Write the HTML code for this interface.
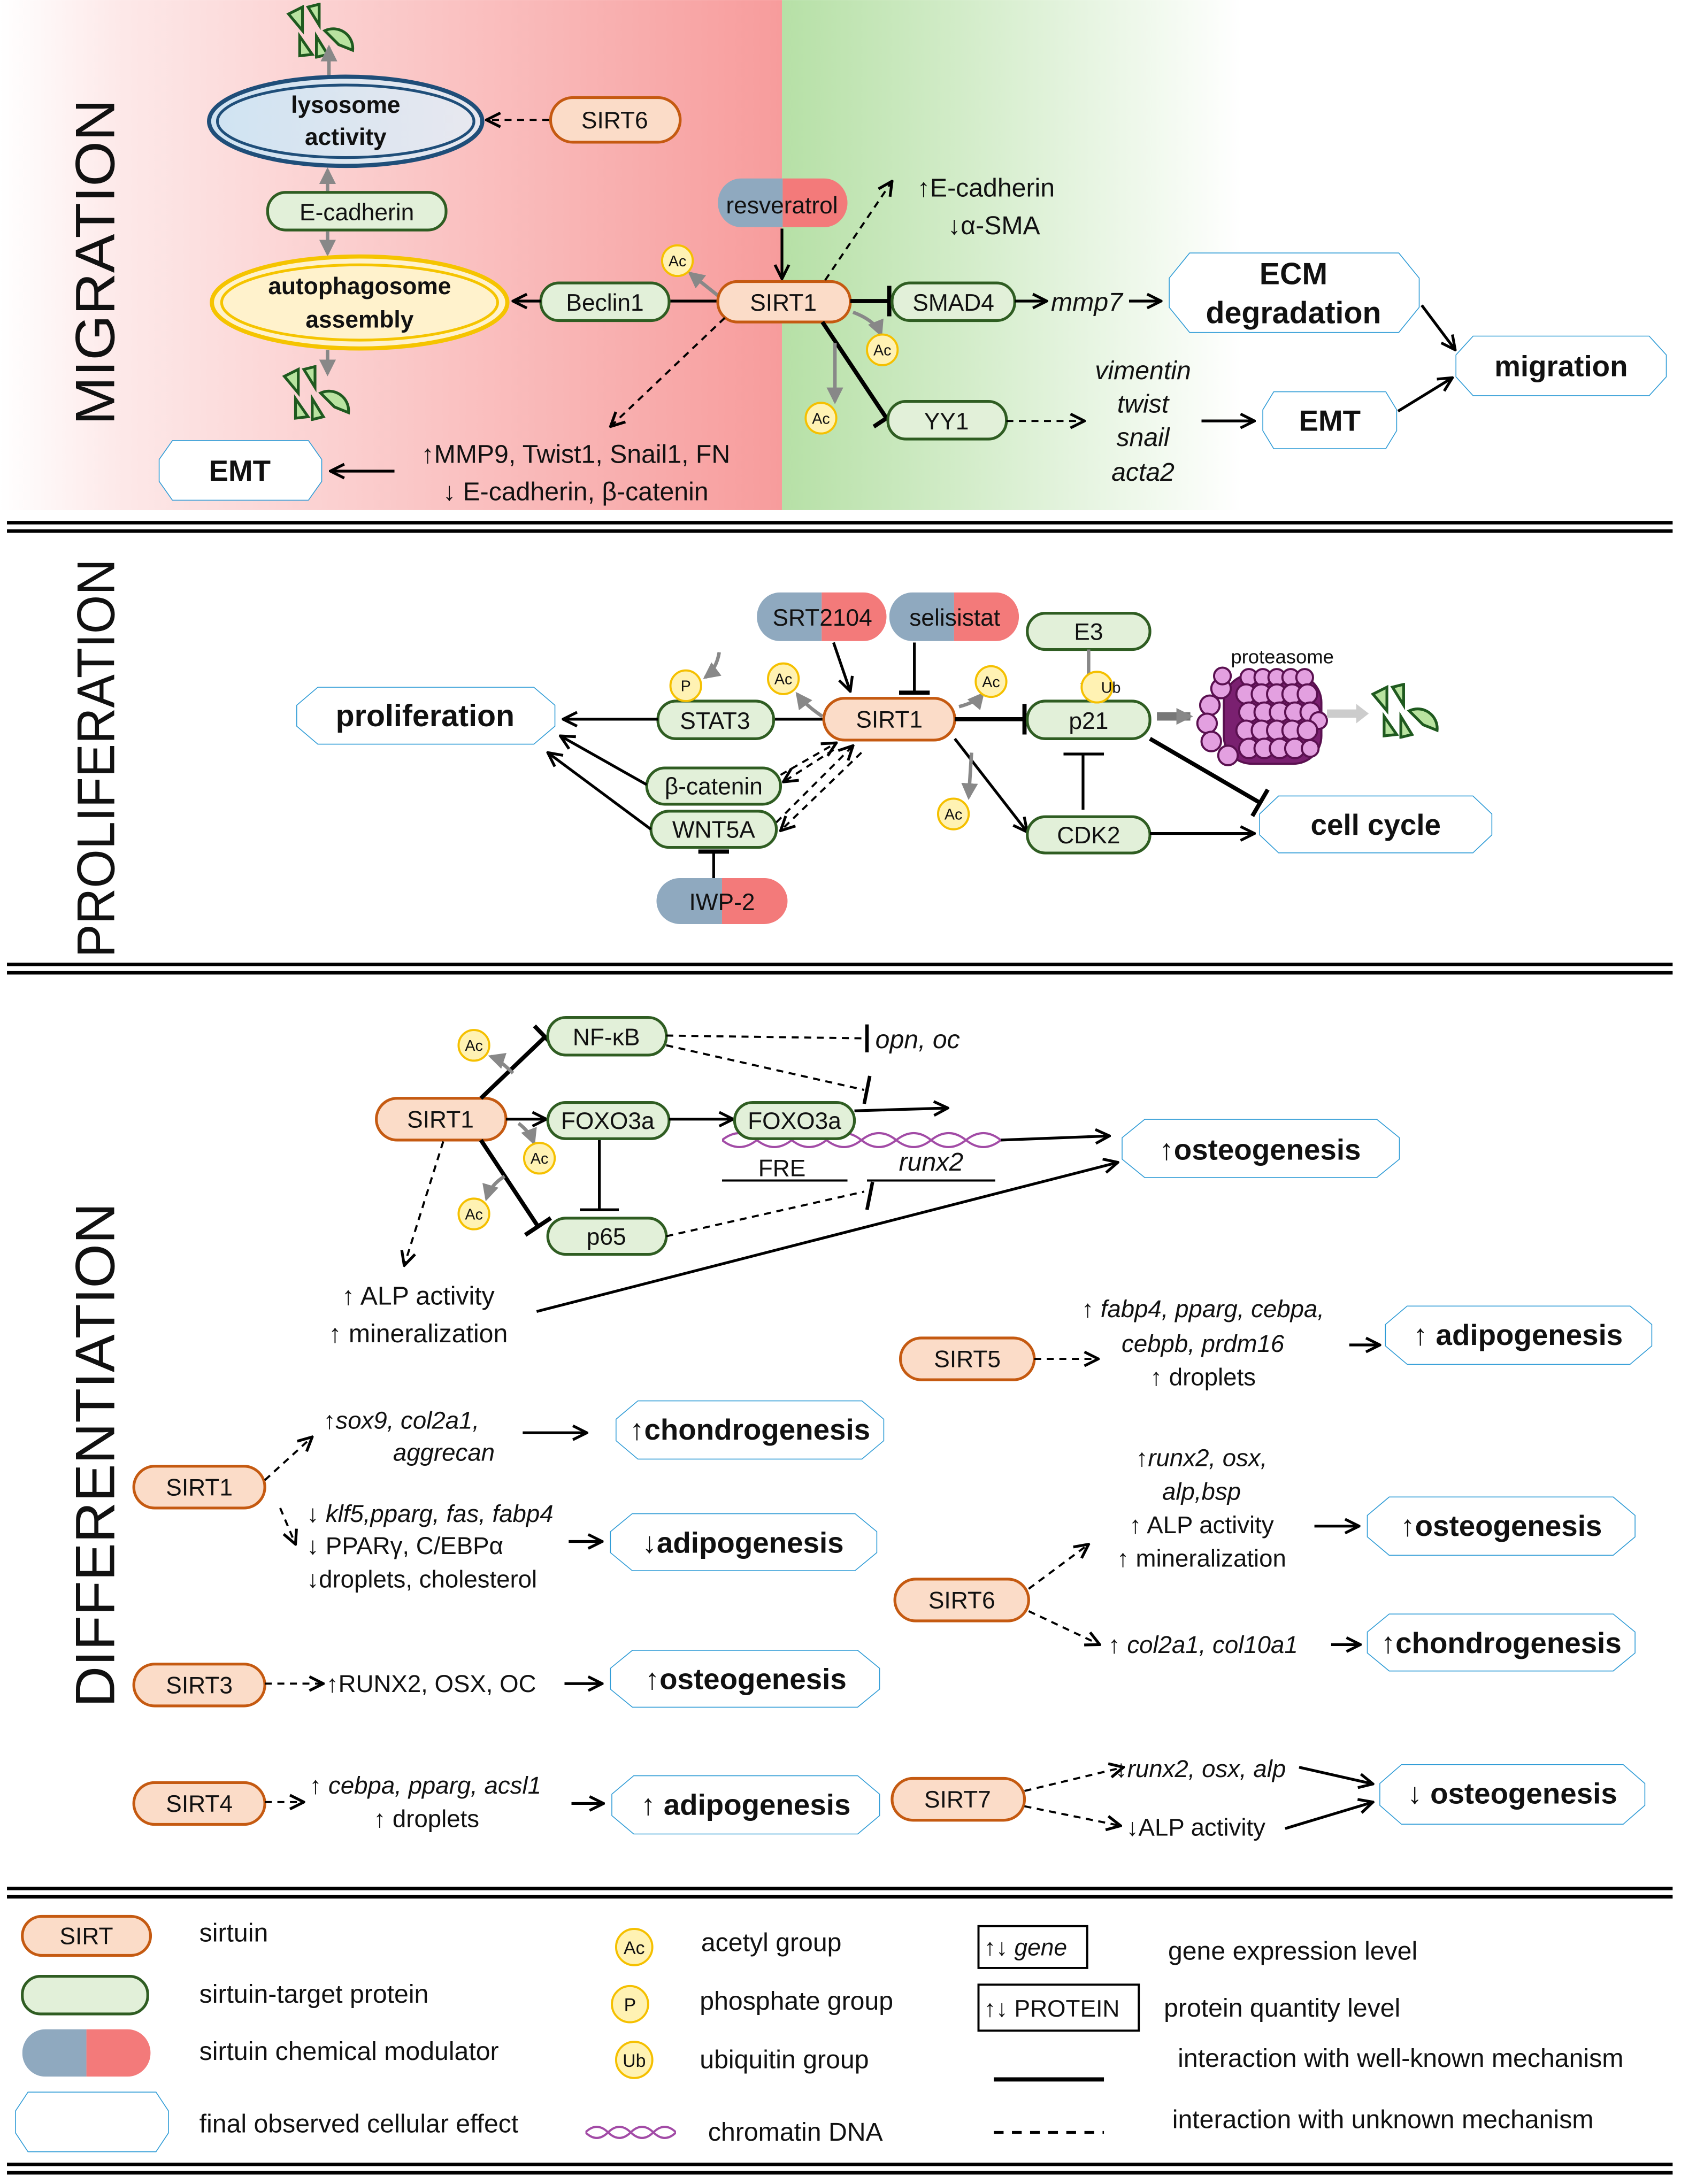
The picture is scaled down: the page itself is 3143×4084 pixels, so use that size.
<!DOCTYPE html>
<html><head><meta charset="utf-8">
<style>
html,body{margin:0;padding:0;background:#fff;}
svg{display:block;}
text{font-family:"Liberation Sans",sans-serif;fill:#111;}
.s{fill:#fbdcc8;stroke:#c55a11;stroke-width:2;}
.g{fill:#e2f0d9;stroke:#2f5d22;stroke-width:2;}
.nt{font-size:17px;text-anchor:middle;}
.et{font-size:21px;font-weight:bold;text-anchor:middle;}
.bt{font-size:18.5px;}
.it{font-style:italic;}
.ln{stroke:#000;stroke-width:2;fill:none;}
.th{stroke:#000;stroke-width:3;fill:none;}
.ds{stroke:#000;stroke-width:1.5;fill:none;stroke-dasharray:5,4;}
.gr{stroke:#888;stroke-width:2.5;fill:none;}
.sep{stroke:#000;stroke-width:2.5;}
</style></head><body>
<svg width="3143" height="4084" viewBox="0 0 1206 1567" xmlns="http://www.w3.org/2000/svg">
<defs>
<linearGradient id="rg" x1="0" x2="1" y1="0" y2="0"><stop offset="0" stop-color="#fff"/><stop offset="0.15" stop-color="#fde9e9"/><stop offset="1" stop-color="#f79c9c"/></linearGradient>
<linearGradient id="gg" x1="0" x2="1" y1="0" y2="0"><stop offset="0" stop-color="#b6e0a6"/><stop offset="1" stop-color="#fff"/></linearGradient>
<linearGradient id="lg" x1="0" x2="1"><stop offset="0" stop-color="#cfe3f2"/><stop offset="1" stop-color="#e8e8ef"/></linearGradient>
<marker id="a" viewBox="0 0 12 12" refX="11" refY="6" markerWidth="12" markerHeight="12" markerUnits="userSpaceOnUse" orient="auto"><path d="M1,1 L11,6 L1,11" fill="none" stroke="#000" stroke-width="2"/></marker>
<marker id="ag" viewBox="0 0 12 12" refX="10" refY="6" markerWidth="12" markerHeight="12" markerUnits="userSpaceOnUse" orient="auto"><path d="M0,0 L12,6 L0,12Z" fill="#888"/></marker>
<marker id="t" viewBox="0 0 4 22" refX="2" refY="11" markerWidth="4" markerHeight="22" markerUnits="userSpaceOnUse" orient="auto"><path d="M2,0V22" stroke="#000" stroke-width="3"/></marker>
<symbol id="eff" viewBox="0 0 100 40" preserveAspectRatio="none"><path d="M9,1H91L99,13V27L91,39H9L1,27V13Z" fill="#fff" stroke="#2e9bd6" stroke-width="1.6" vector-effect="non-scaling-stroke"/></symbol>
<symbol id="mod" viewBox="0 0 100 36" preserveAspectRatio="none"><path d="M18,0H50V36H18A18,18 0 0 1 18,0Z" fill="#8fa9bf"/><path d="M50,0H82A18,18 0 0 1 82,36H50Z" fill="#f37a7a"/></symbol>
<symbol id="frag" viewBox="0 0 50 40"><g fill="#b9e3a0" stroke="#1f5a1f" stroke-width="2"><polygon points="2,8 12,3 12,20"/><polygon points="16,3 24,1 24,16"/><polygon points="10,24 10,38 19,37"/><polygon points="22,24 22,39 30,37"/><path d="M28,20 A14,14 0 0 1 48,34 L38,30 Z"/></g></symbol>
<symbol id="dna" viewBox="0 0 100 20" preserveAspectRatio="none"><path d="M0,10 Q6.25,0 12.5,10 T25,10 T37.5,10 T50,10 T62.5,10 T75,10 T87.5,10 T100,10" stroke="#a24ba6" stroke-width="4" fill="none" vector-effect="non-scaling-stroke"/><path d="M0,10 Q6.25,20 12.5,10 T25,10 T37.5,10 T50,10 T62.5,10 T75,10 T87.5,10 T100,10" stroke="#a24ba6" stroke-width="4" fill="none" vector-effect="non-scaling-stroke"/></symbol>
</defs>

<rect x="0" y="0" width="561" height="366" fill="url(#rg)"/>
<rect x="561" y="0" width="330" height="366" fill="url(#gg)"/>

<g class="sep"><line x1="5" y1="375" x2="1200" y2="375"/><line x1="5" y1="381" x2="1200" y2="381"/>
<line x1="5" y1="692" x2="1200" y2="692"/><line x1="5" y1="698" x2="1200" y2="698"/>
<line x1="5" y1="1355" x2="1200" y2="1355"/><line x1="5" y1="1361" x2="1200" y2="1361"/>
<line x1="5" y1="1553" x2="1200" y2="1553"/><line x1="5" y1="1559" x2="1200" y2="1559"/></g>

<text transform="translate(82,188) rotate(-90)" font-size="40" text-anchor="middle" textLength="234" lengthAdjust="spacingAndGlyphs">MIGRATION</text>
<text transform="translate(82,544) rotate(-90)" font-size="38" text-anchor="middle" textLength="286" lengthAdjust="spacingAndGlyphs">PROLIFERATION</text>
<text transform="translate(82,1044) rotate(-90)" font-size="40" text-anchor="middle" textLength="362" lengthAdjust="spacingAndGlyphs">DIFFERENTIATION</text>

<!-- MIGRATION -->
<use href="#frag" x="195" y="2" width="70" height="40"/>
<line class="gr" x1="236" y1="55" x2="236" y2="34" marker-end="url(#ag)"/>
<ellipse cx="248" cy="87" rx="98" ry="32" fill="url(#lg)" stroke="#1f4e79" stroke-width="3"/>
<ellipse cx="248" cy="87" rx="92" ry="26" fill="none" stroke="#1f4e79" stroke-width="2"/>
<text x="248" y="81" font-size="17" font-weight="bold" text-anchor="middle">lysosome</text>
<text x="248" y="104" font-size="17" font-weight="bold" text-anchor="middle">activity</text>
<rect class="s" x="395" y="70" width="93" height="32" rx="16"/><text class="nt" x="441" y="92">SIRT6</text>
<line class="ds" x1="394" y1="86" x2="349" y2="86" marker-end="url(#a)"/>
<line class="gr" x1="235" y1="137" x2="235" y2="122" marker-end="url(#ag)"/>
<rect class="g" x="192" y="138" width="128" height="27" rx="13"/><text class="nt" x="256" y="158">E-cadherin</text>
<line class="gr" x1="235" y1="166" x2="235" y2="182" marker-end="url(#ag)"/>
<ellipse cx="258" cy="217" rx="106" ry="33" fill="#fff2cc" stroke="#f5c400" stroke-width="3"/>
<ellipse cx="258" cy="217" rx="99" ry="27" fill="none" stroke="#f5c400" stroke-width="2"/>
<text x="258" y="211" font-size="17" font-weight="bold" text-anchor="middle">autophagosome</text>
<text x="258" y="235" font-size="17" font-weight="bold" text-anchor="middle">assembly</text>
<line class="gr" x1="235" y1="251" x2="235" y2="268" marker-end="url(#ag)"/>
<use href="#frag" x="192" y="262" width="70" height="40"/>
<rect class="g" x="388" y="203" width="92" height="27" rx="13"/><text class="nt" x="434" y="223">Beclin1</text>
<line class="ln" x1="388" y1="216" x2="368" y2="216" marker-end="url(#a)"/>
<line class="ln" x1="515" y1="216" x2="481" y2="216"/>
<path class="gr" d="M515,212 Q500,200 495,196" marker-end="url(#ag)"/>
<use href="#mod" x="515" y="128" width="93" height="35"/><text class="nt" x="561" y="153">resveratrol</text>
<line class="ln" x1="561" y1="164" x2="561" y2="200" marker-end="url(#a)"/>
<rect class="s" x="515" y="202" width="95" height="29" rx="14"/><text class="nt" x="562" y="223">SIRT1</text>
<line class="ds" x1="592" y1="201" x2="640" y2="130" marker-end="url(#a)"/>
<text class="bt" x="658" y="141">↑E-cadherin</text>
<text class="bt" x="680" y="168">↓α-SMA</text>
<line class="th" x1="610" y1="216" x2="638" y2="216" marker-end="url(#t)"/>
<rect class="g" x="640" y="203" width="88" height="27" rx="13"/><text class="nt" x="684" y="223">SMAD4</text>
<path class="gr" d="M612,224 Q628,230 632,240" marker-end="url(#ag)"/>
<line class="ln" x1="728" y1="216" x2="751" y2="216" marker-end="url(#a)"/>
<text class="bt it" x="754" y="223">mmp7</text>
<line class="ln" x1="810" y1="216" x2="833" y2="216" marker-end="url(#a)"/>
<use href="#eff" x="837" y="180" width="183" height="60"/>
<text x="928" y="204" font-size="22" font-weight="bold" text-anchor="middle">ECM</text>
<text x="928" y="232" font-size="22" font-weight="bold" text-anchor="middle">degradation</text>
<line class="th" x1="590" y1="231" x2="636" y2="300" marker-end="url(#t)"/>
<line class="gr" x1="599" y1="246" x2="599" y2="288" marker-end="url(#ag)"/>
<rect class="g" x="637" y="288" width="85" height="27" rx="13"/><text class="nt" x="679" y="308">YY1</text>
<line class="ds" x1="722" y1="302" x2="778" y2="302" marker-end="url(#a)"/>
<g class="bt it" text-anchor="middle"><text x="820" y="272">vimentin</text><text x="820" y="296">twist</text><text x="820" y="320">snail</text><text x="820" y="345">acta2</text></g>
<line class="ln" x1="862" y1="302" x2="900" y2="302" marker-end="url(#a)"/>
<use href="#eff" x="905" y="280" width="98" height="43"/><text class="et" x="954" y="309">EMT</text>
<use href="#eff" x="1043" y="240" width="154" height="45"/><text class="et" x="1120" y="270">migration</text>
<line class="ln" x1="1020" y1="219" x2="1044" y2="251" marker-end="url(#a)"/>
<line class="ln" x1="1003" y1="295" x2="1042" y2="271" marker-end="url(#a)"/>
<line class="ds" x1="520" y1="228" x2="438" y2="306" marker-end="url(#a)"/>
<text class="bt" x="413" y="332" text-anchor="middle">↑MMP9, Twist1, Snail1, FN</text>
<text class="bt" x="413" y="359" text-anchor="middle">↓ E-cadherin, β-catenin</text>
<line class="ln" x1="283" y1="338" x2="237" y2="338" marker-end="url(#a)"/>
<use href="#eff" x="113" y="315" width="119" height="45"/><text class="et" x="172" y="345">EMT</text>

<!-- PROLIFERATION -->
<use href="#eff" x="211" y="492" width="189" height="43"/><text x="305" y="521" font-size="22" font-weight="bold" text-anchor="middle">proliferation</text>
<rect class="g" x="472" y="503" width="83" height="27" rx="13"/><text class="nt" x="513" y="523">STAT3</text>
<line class="ln" x1="472" y1="516" x2="404" y2="516" marker-end="url(#a)"/>
<path class="gr" d="M516,468 Q514,480 506,486" marker-end="url(#ag)"/>
<path class="gr" d="M590,514 Q578,506 572,498" marker-end="url(#ag)"/>
<line class="ln" x1="591" y1="516" x2="556" y2="516"/>
<use href="#mod" x="543" y="425" width="93" height="35"/><text class="nt" x="590" y="449">SRT2104</text>
<use href="#mod" x="638" y="425" width="93" height="35"/><text class="nt" x="685" y="449">selisistat</text>
<line class="ln" x1="598" y1="461" x2="610" y2="496" marker-end="url(#a)"/>
<line class="ln" x1="656" y1="461" x2="656" y2="497" marker-end="url(#t)"/>
<rect class="s" x="591" y="501" width="94" height="30" rx="15"/><text class="nt" x="638" y="522">SIRT1</text>
<rect class="g" x="464" y="551" width="96" height="26" rx="13"/><text class="nt" x="512" y="570">β-catenin</text>
<rect class="g" x="467" y="582" width="90" height="26" rx="13"/><text class="nt" x="512" y="601">WNT5A</text>
<line class="ln" x1="464" y1="563" x2="402" y2="528" marker-end="url(#a)"/>
<line class="ln" x1="467" y1="595" x2="393" y2="540" marker-end="url(#a)"/>
<line class="ds" x1="560" y1="556" x2="600" y2="533" marker-end="url(#a)"/>
<line class="ds" x1="598" y1="538" x2="562" y2="561" marker-end="url(#a)"/>
<line class="ds" x1="557" y1="590" x2="612" y2="535" marker-end="url(#a)"/>
<line class="ds" x1="618" y1="540" x2="560" y2="596" marker-end="url(#a)"/>
<use href="#mod" x="471" y="630" width="94" height="33"/><text class="nt" x="518" y="653">IWP-2</text>
<line class="ln" x1="512" y1="630" x2="512" y2="611" marker-end="url(#t)"/>
<line class="th" x1="685" y1="516" x2="735" y2="516" marker-end="url(#t)"/>
<path class="gr" d="M688,507 Q700,504 705,498" marker-end="url(#ag)"/>
<rect class="g" x="737" y="440" width="88" height="26" rx="13"/><text class="nt" x="781" y="459">E3</text>
<line class="gr" x1="781" y1="466" x2="781" y2="500" marker-end="url(#ag)"/>
<rect class="g" x="737" y="503" width="88" height="27" rx="13"/><text class="nt" x="781" y="523">p21</text>
<line x1="830" y1="514" x2="854" y2="514" stroke="#777" stroke-width="6" marker-end="url(#ag)"/>
<text x="920" y="476" font-size="14" text-anchor="middle">proteasome</text>
<g stroke="#5a1050" stroke-width="1.5" fill="#e3a0e0" transform="translate(0,4)">
<rect x="878" y="480" width="70" height="64" rx="20" fill="#7a2070"/>
<circle cx="876" cy="490" r="7"/><circle cx="868" cy="502" r="7"/><circle cx="866" cy="515" r="7"/><circle cx="869" cy="528" r="7"/><circle cx="881" cy="538" r="7"/><circle cx="877" cy="481" r="6"/>
<g><circle cx="896" cy="482" r="6"/><circle cx="906" cy="482" r="6"/><circle cx="916" cy="482" r="6"/><circle cx="926" cy="482" r="6"/><circle cx="936" cy="482" r="6"/>
<circle cx="894" cy="494" r="7"/><circle cx="905" cy="494" r="7"/><circle cx="916" cy="494" r="7"/><circle cx="927" cy="494" r="7"/><circle cx="938" cy="494" r="7"/>
<circle cx="896" cy="507" r="7"/><circle cx="907" cy="507" r="7"/><circle cx="918" cy="507" r="7"/><circle cx="929" cy="507" r="7"/><circle cx="940" cy="507" r="7"/><circle cx="946" cy="513" r="6"/>
<circle cx="894" cy="520" r="7"/><circle cx="905" cy="520" r="7"/><circle cx="916" cy="520" r="7"/><circle cx="927" cy="520" r="7"/><circle cx="938" cy="520" r="7"/>
<circle cx="896" cy="533" r="7"/><circle cx="907" cy="533" r="7"/><circle cx="918" cy="533" r="7"/><circle cx="929" cy="533" r="7"/><circle cx="940" cy="533" r="6"/></g></g>
<line x1="952" y1="512" x2="975" y2="512" stroke="#ccc" stroke-width="6"/><path d="M973,505 L982,512 L973,519Z" fill="#ccc"/>
<use href="#frag" x="983" y="490" width="50" height="40"/>
<path d="M787,493 m-11,0 a11,11 0 1 0 22,0 a11,11 0 1 0 -22,0" fill="#fff2b3" stroke="#f5c000" stroke-width="1.5"/><text x="797" y="497" font-size="11" text-anchor="middle">Ub</text>
<line class="th" x1="825" y1="530" x2="904" y2="576" marker-end="url(#t)"/>
<line class="ln" x1="777" y1="541" x2="777" y2="581"/><line class="ln" x1="763" y1="541" x2="792" y2="541"/>
<line class="ln" x1="685" y1="530" x2="737" y2="597" marker-end="url(#a)"/>
<line class="gr" x1="697" y1="540" x2="695" y2="572" marker-end="url(#ag)"/>
<rect class="g" x="737" y="586" width="88" height="26" rx="13"/><text class="nt" x="781" y="605">CDK2</text>
<line class="ln" x1="825" y1="598" x2="900" y2="598" marker-end="url(#a)"/>
<use href="#eff" x="902" y="570" width="170" height="43"/><text class="et" x="987" y="599">cell cycle</text>

<!-- DIFFERENTIATION -->
<rect class="s" x="270" y="788" width="93" height="30" rx="15"/><text class="nt" x="316" y="809">SIRT1</text>
<line class="th" x1="345" y1="788" x2="391" y2="744" marker-end="url(#t)"/>
<path class="gr" d="M368,770 Q358,760 352,758" marker-end="url(#ag)"/>
<rect class="g" x="393" y="730" width="85" height="27" rx="13"/><text class="nt" x="435" y="750">NF-κB</text>
<line class="ln" x1="363" y1="803" x2="392" y2="803" marker-end="url(#a)"/>
<path class="gr" d="M372,806 Q380,812 383,820" marker-end="url(#ag)"/>
<rect class="g" x="393" y="791" width="87" height="26" rx="13"/><text class="nt" x="436" y="810">FOXO3a</text>
<line class="th" x1="345" y1="818" x2="386" y2="880" marker-end="url(#t)"/>
<path class="gr" d="M362,844 Q352,850 349,860" marker-end="url(#ag)"/>
<rect class="g" x="393" y="874" width="85" height="26" rx="13"/><text class="nt" x="435" y="893">p65</text>
<line class="ln" x1="430" y1="818" x2="430" y2="868"/><line class="ln" x1="416" y1="868" x2="444" y2="868"/>
<line class="ln" x1="480" y1="803" x2="526" y2="803" marker-end="url(#a)"/>
<use href="#dna" x="518" y="808" width="200" height="20"/>
<rect class="g" x="527" y="791" width="86" height="26" rx="13"/><text class="nt" x="570" y="810">FOXO3a</text>
<line class="ln" x1="613" y1="797" x2="680" y2="795" marker-end="url(#a)"/>
<text x="561" y="844" font-size="17" text-anchor="middle">FRE</text>
<line x1="518" y1="847" x2="608" y2="847" stroke="#000" stroke-width="1.5"/>
<text class="bt it" x="668" y="840" text-anchor="middle">runx2</text>
<line x1="622" y1="847" x2="714" y2="847" stroke="#000" stroke-width="1.5"/>
<line class="ln" x1="718" y1="818" x2="796" y2="815" marker-end="url(#a)"/>
<use href="#eff" x="803" y="802" width="203" height="44"/><text class="et" x="904" y="832">↑osteogenesis</text>
<line class="ds" x1="478" y1="743" x2="620" y2="745"/><line x1="622" y1="735" x2="622" y2="755" stroke="#000" stroke-width="2.5"/>
<text class="bt it" x="628" y="752">opn, oc</text>
<line class="ds" x1="478" y1="750" x2="620" y2="782"/><line x1="624" y1="772" x2="620" y2="792" stroke="#000" stroke-width="2.5"/>
<line class="ds" x1="478" y1="887" x2="620" y2="855"/><line x1="626" y1="848" x2="622" y2="868" stroke="#000" stroke-width="2.5"/>
<line class="ds" x1="318" y1="819" x2="290" y2="908" marker-end="url(#a)"/>
<text class="bt" x="300" y="936" text-anchor="middle">↑ ALP activity</text>
<text class="bt" x="300" y="963" text-anchor="middle">↑ mineralization</text>
<line class="ln" x1="385" y1="941" x2="802" y2="834" marker-end="url(#a)"/>

<rect class="s" x="646" y="960" width="96" height="30" rx="15"/><text class="nt" x="694" y="981">SIRT5</text>
<line class="ds" x1="742" y1="975" x2="788" y2="975" marker-end="url(#a)"/>
<g text-anchor="middle" font-size="17.5"><text x="863" y="945"><tspan>↑ </tspan><tspan font-style="italic">fabp4, pparg, cebpa,</tspan></text><text x="863" y="970" font-style="italic">cebpb, prdm16</text><text x="863" y="994">↑ droplets</text></g>
<line class="ln" x1="968" y1="965" x2="990" y2="965" marker-end="url(#a)"/>
<use href="#eff" x="992" y="936" width="195" height="44"/><text class="et" x="1089" y="965">↑ adipogenesis</text>

<rect class="s" x="96" y="1052" width="94" height="30" rx="15"/><text class="nt" x="143" y="1073">SIRT1</text>
<line class="ds" x1="190" y1="1062" x2="224" y2="1031" marker-end="url(#a)"/>
<line class="ds" x1="201" y1="1082" x2="212" y2="1108" marker-end="url(#a)"/>
<text x="232" y="1025" font-size="17.5">↑<tspan font-style="italic">sox9, col2a1,</tspan></text>
<text x="282" y="1048" font-size="17.5" font-style="italic">aggrecan</text>
<line class="ln" x1="375" y1="1028" x2="421" y2="1028" marker-end="url(#a)"/>
<use href="#eff" x="440" y="1004" width="196" height="44"/><text class="et" x="538" y="1033">↑chondrogenesis</text>
<text x="220" y="1092" font-size="17.5">↓ <tspan font-style="italic">klf5,pparg, fas, fabp4</tspan></text>
<text x="220" y="1115" font-size="17.5">↓ PPARγ, C/EBPα</text>
<text x="220" y="1139" font-size="17.5">↓droplets, cholesterol</text>
<line class="ln" x1="408" y1="1106" x2="432" y2="1106" marker-end="url(#a)"/>
<use href="#eff" x="436" y="1085" width="195" height="43"/><text class="et" x="533" y="1114">↓adipogenesis</text>

<rect class="s" x="642" y="1133" width="96" height="30" rx="15"/><text class="nt" x="690" y="1154">SIRT6</text>
<line class="ds" x1="738" y1="1140" x2="781" y2="1108" marker-end="url(#a)"/>
<line class="ds" x1="738" y1="1156" x2="789" y2="1180" marker-end="url(#a)"/>
<g text-anchor="middle" font-size="17.5"><text x="862" y="1052">↑<tspan font-style="italic">runx2, osx,</tspan></text><text x="862" y="1076" font-style="italic">alp,bsp</text><text x="862" y="1100">↑ ALP activity</text><text x="862" y="1124">↑ mineralization</text></g>
<line class="ln" x1="943" y1="1095" x2="975" y2="1095" marker-end="url(#a)"/>
<use href="#eff" x="979" y="1073" width="196" height="44"/><text class="et" x="1077" y="1102">↑osteogenesis</text>
<text x="795" y="1186" font-size="17.5">↑ <tspan font-style="italic">col2a1, col10a1</tspan></text>
<line class="ln" x1="955" y1="1180" x2="976" y2="1180" marker-end="url(#a)"/>
<use href="#eff" x="979" y="1157" width="196" height="43"/><text class="et" x="1077" y="1186">↑chondrogenesis</text>

<rect class="s" x="96" y="1194" width="94" height="30" rx="15"/><text class="nt" x="143" y="1215">SIRT3</text>
<line class="ds" x1="190" y1="1208" x2="232" y2="1208" marker-end="url(#a)"/>
<text x="234" y="1214" font-size="17.5">↑RUNX2, OSX, OC</text>
<line class="ln" x1="405" y1="1208" x2="432" y2="1208" marker-end="url(#a)"/>
<use href="#eff" x="436" y="1183" width="197" height="43"/><text class="et" x="535" y="1212">↑osteogenesis</text>

<rect class="s" x="96" y="1279" width="94" height="30" rx="15"/><text class="nt" x="143" y="1300">SIRT4</text>
<line class="ds" x1="190" y1="1293" x2="218" y2="1293" marker-end="url(#a)"/>
<text x="222" y="1287" font-size="17.5">↑ <tspan font-style="italic">cebpa, pparg, acsl1</tspan></text>
<text x="268" y="1311" font-size="17.5">↑ droplets</text>
<line class="ln" x1="410" y1="1294" x2="433" y2="1294" marker-end="url(#a)"/>
<use href="#eff" x="437" y="1273" width="196" height="44"/><text class="et" x="535" y="1302">↑ adipogenesis</text>

<rect class="s" x="640" y="1276" width="95" height="30" rx="15"/><text class="nt" x="687" y="1297">SIRT7</text>
<line class="ds" x1="735" y1="1285" x2="806" y2="1268" marker-end="url(#a)"/>
<line class="ds" x1="735" y1="1296" x2="804" y2="1310" marker-end="url(#a)"/>
<text x="800" y="1275" font-size="17.5">↓<tspan font-style="italic">runx2, osx, alp</tspan></text>
<text x="808" y="1317" font-size="17.5">↓ALP activity</text>
<line class="ln" x1="932" y1="1268" x2="985" y2="1280" marker-end="url(#a)"/>
<line class="ln" x1="922" y1="1312" x2="985" y2="1293" marker-end="url(#a)"/>
<use href="#eff" x="988" y="1265" width="194" height="45"/><text class="et" x="1085" y="1294">↓ osteogenesis</text>

<g font-size="11" text-anchor="middle">
<g transform="translate(486,187)"><circle r="11" fill="#fff2b3" stroke="#f5c000" stroke-width="1.5"/><text y="4">Ac</text></g>
<g transform="translate(633,251)"><circle r="11" fill="#fff2b3" stroke="#f5c000" stroke-width="1.5"/><text y="4">Ac</text></g>
<g transform="translate(589,300)"><circle r="11" fill="#fff2b3" stroke="#f5c000" stroke-width="1.5"/><text y="4">Ac</text></g>
<g transform="translate(562,487)"><circle r="11" fill="#fff2b3" stroke="#f5c000" stroke-width="1.5"/><text y="4">Ac</text></g>
<g transform="translate(711,489)"><circle r="11" fill="#fff2b3" stroke="#f5c000" stroke-width="1.5"/><text y="4">Ac</text></g>
<g transform="translate(684,584)"><circle r="11" fill="#fff2b3" stroke="#f5c000" stroke-width="1.5"/><text y="4">Ac</text></g>
<g transform="translate(492,492)"><circle r="11" fill="#fff2b3" stroke="#f5c000" stroke-width="1.5"/><text y="4">P</text></g>
<g transform="translate(340,750)"><circle r="11" fill="#fff2b3" stroke="#f5c000" stroke-width="1.5"/><text y="4">Ac</text></g>
<g transform="translate(387,831)"><circle r="11" fill="#fff2b3" stroke="#f5c000" stroke-width="1.5"/><text y="4">Ac</text></g>
<g transform="translate(340,871)"><circle r="11" fill="#fff2b3" stroke="#f5c000" stroke-width="1.5"/><text y="4">Ac</text></g>
</g>

<!-- LEGEND -->
<rect class="s" x="16" y="1375" width="92" height="28" rx="14"/><text class="nt" x="62" y="1395">SIRT</text>
<text class="bt" x="143" y="1393">sirtuin</text>
<rect class="g" x="16" y="1418" width="90" height="27" rx="13"/>
<text class="bt" x="143" y="1437">sirtuin-target protein</text>
<use href="#mod" x="16" y="1456" width="92" height="34"/>
<text class="bt" x="143" y="1478">sirtuin chemical modulator</text>
<use href="#eff" x="10" y="1500" width="112" height="45"/>
<text class="bt" x="143" y="1530">final observed cellular effect</text>
<g font-size="13" text-anchor="middle">
<g transform="translate(455,1397)"><circle r="13" fill="#fff2b3" stroke="#f5c000" stroke-width="1.5"/><text y="5">Ac</text></g>
<g transform="translate(452,1438)"><circle r="13" fill="#fff2b3" stroke="#f5c000" stroke-width="1.5"/><text y="5">P</text></g>
<g transform="translate(455,1478)"><circle r="13" fill="#fff2b3" stroke="#f5c000" stroke-width="1.5"/><text y="5">Ub</text></g>
</g>
<text class="bt" x="503" y="1400">acetyl group</text>
<text class="bt" x="502" y="1442">phosphate group</text>
<text class="bt" x="502" y="1484">ubiquitin group</text>
<symbol id="dna2" viewBox="0 0 100 20" preserveAspectRatio="none"><path d="M0,10 Q12.5,0 25,10 T50,10 T75,10 T100,10" stroke="#a24ba6" stroke-width="4" fill="none" vector-effect="non-scaling-stroke"/><path d="M0,10 Q12.5,20 25,10 T50,10 T75,10 T100,10" stroke="#a24ba6" stroke-width="4" fill="none" vector-effect="non-scaling-stroke"/></symbol>
<use href="#dna2" x="420" y="1522" width="65" height="16"/>
<text class="bt" x="508" y="1536">chromatin DNA</text>
<rect x="702" y="1382" width="78" height="30" fill="#fff" stroke="#000" stroke-width="1.5"/>
<text x="706" y="1403" font-size="17">↑↓ <tspan font-style="italic">gene</tspan></text>
<text class="bt" x="838" y="1406">gene expression level</text>
<rect x="702" y="1424" width="115" height="33" fill="#fff" stroke="#000" stroke-width="1.5"/>
<text x="706" y="1447" font-size="17">↑↓ PROTEIN</text>
<text class="bt" x="835" y="1447">protein quantity level</text>
<line x1="713" y1="1492" x2="792" y2="1492" stroke="#000" stroke-width="3"/>
<text class="bt" x="845" y="1483">interaction with well-known mechanism</text>
<line x1="713" y1="1530" x2="792" y2="1530" stroke="#000" stroke-width="2" stroke-dasharray="7,6"/>
<text class="bt" x="841" y="1527">interaction with unknown mechanism</text>
</svg>
</body></html>
